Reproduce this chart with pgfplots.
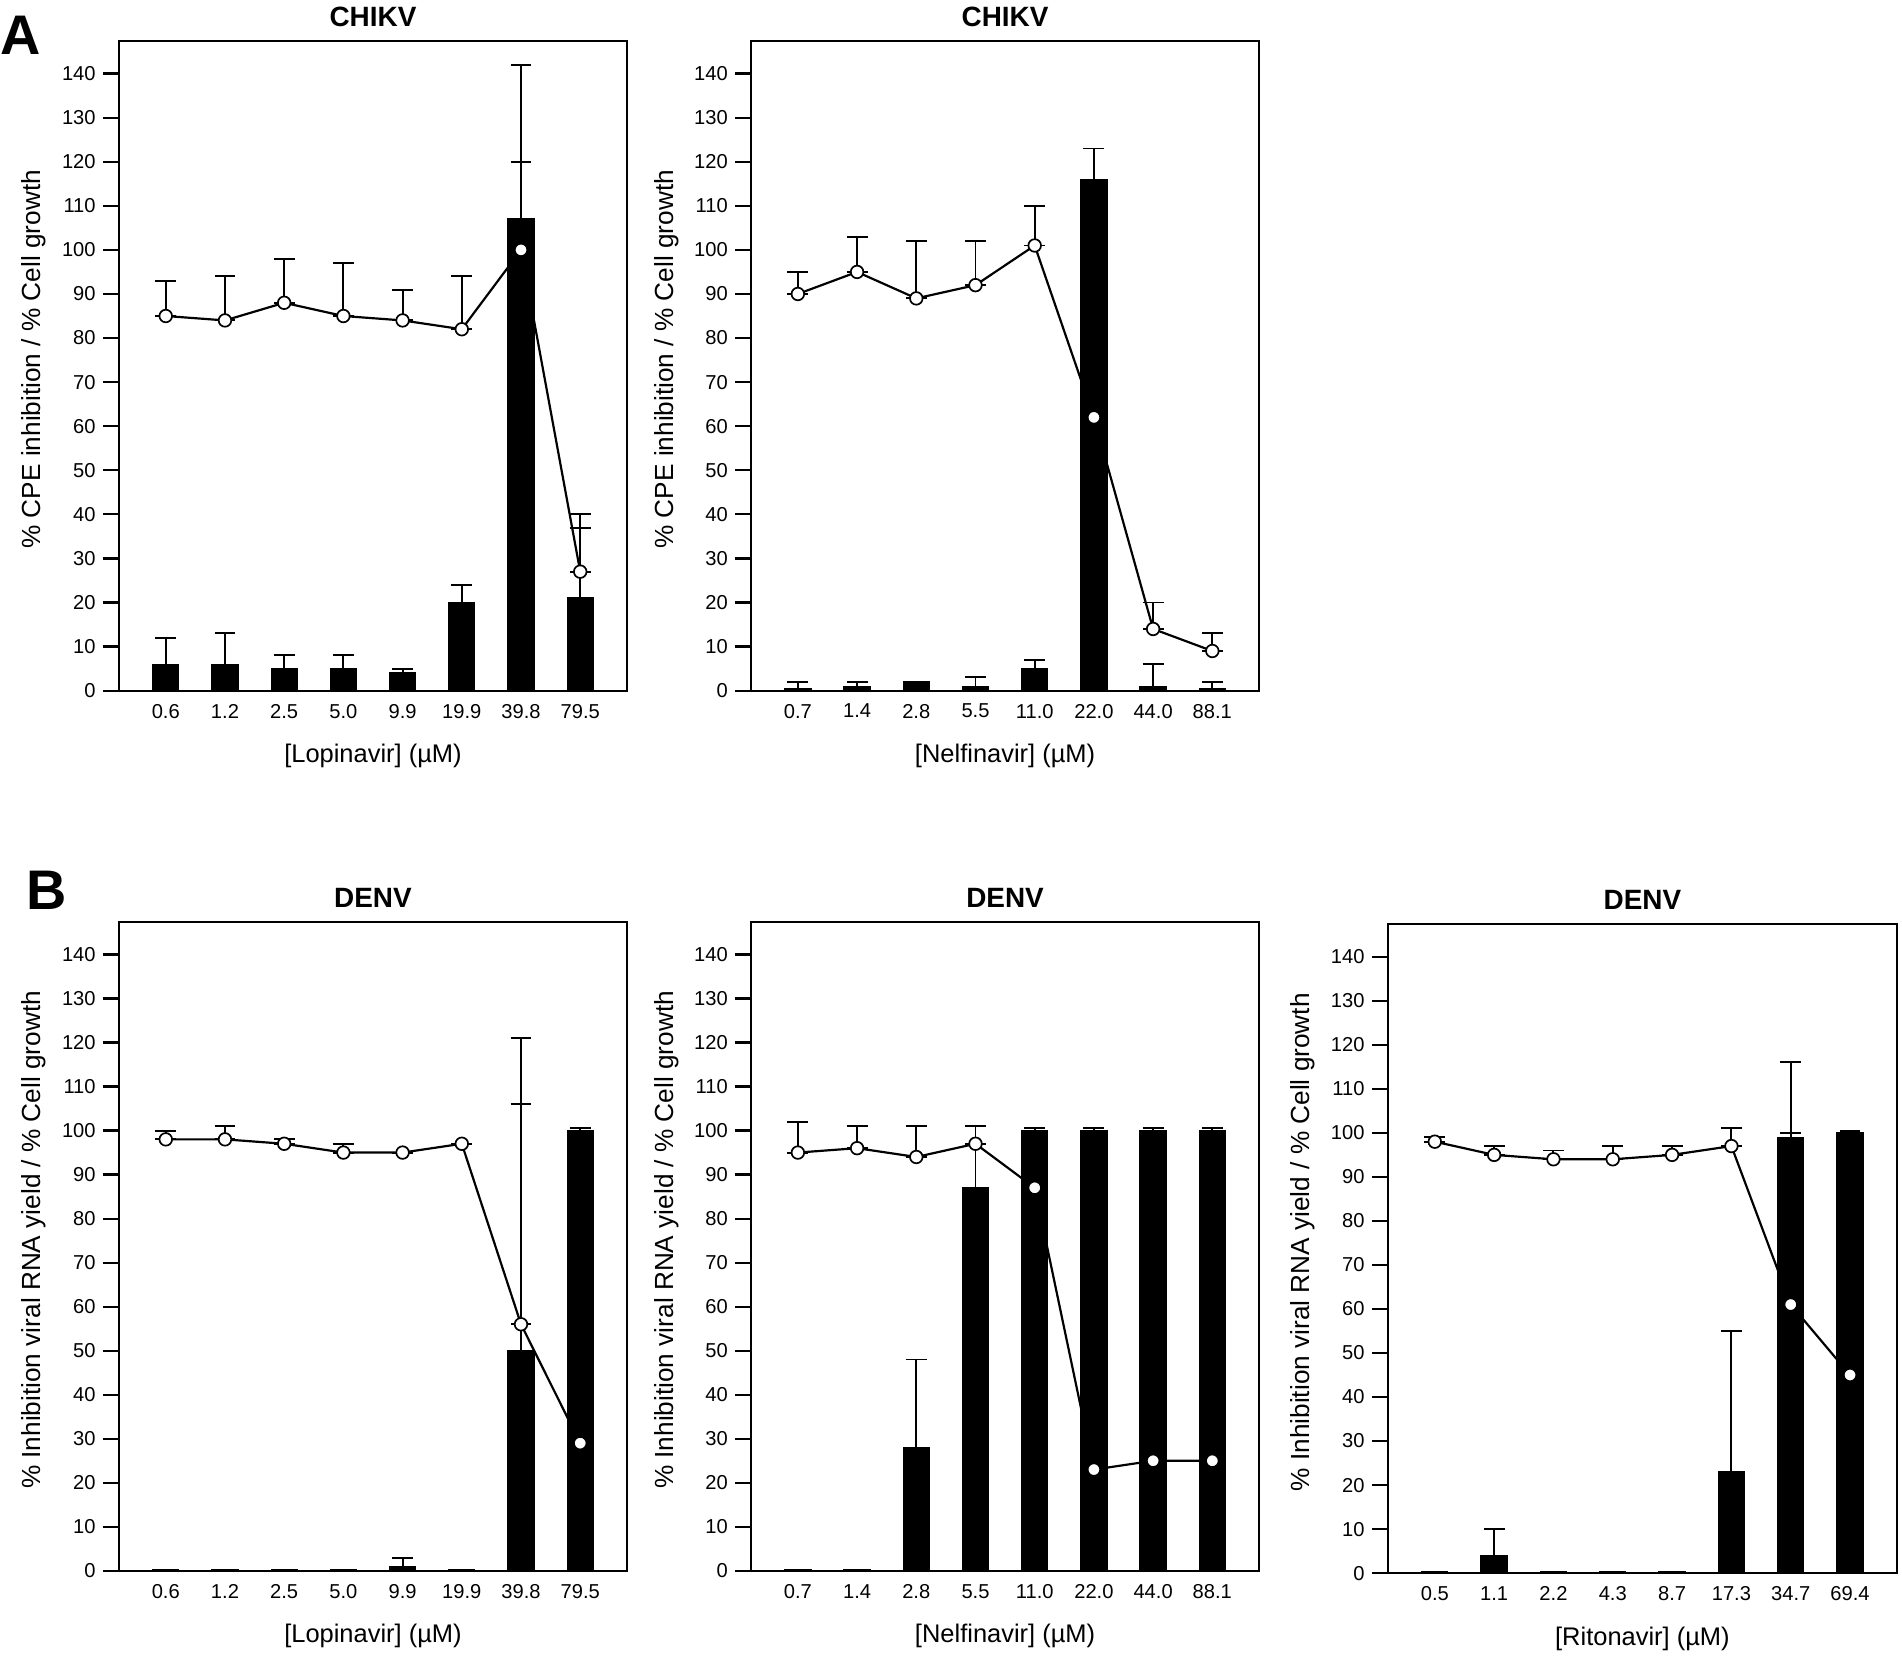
\documentclass[border=0pt]{standalone}
\usepackage{fontspec}
\setmainfont{Liberation Sans}
\usepackage{pgfplots}
\usepackage{pgfplotstable}
\pgfplotsset{compat=1.18}

% x b bp c cp  (b = bar value, bp = bar error +, c = cell growth, cp = its error +)
\pgfplotstableread{
x b bp c cp
0 6 6 85 8
1 6 7 84 10
2 5 3 88 10
3 5 3 85 12
4 4 1 84 7
5 20 4 82 12
6 107 35 100 20
7 21 16 27 13
}\tabAone
\pgfplotstableread{
x b bp c cp
0 0.5 1.5 90 5
1 1 1 95 8
2 2 0 89 13
3 1 2 92 10
4 5 2 101 9
5 116 7 62 0
6 1 5 14 6
7 0.5 1.5 9 4
}\tabAtwo
\pgfplotstableread{
x b bp c cp
0 0.3 0 98 2
1 0.3 0 98 3
2 0.3 0 97 1
3 0.3 0 95 2
4 1 2 95 0
5 0.3 0 97 0
6 50 71 56 50
7 100 0.5 29 0
}\tabBone
\pgfplotstableread{
x b bp c cp
0 0.3 0 95 7
1 0.3 0 96 5
2 28 20 94 7
3 87 14 97 4
4 100 0.5 87 0
5 100 0.5 23 0
6 100 0.5 25 0
7 100 0.5 25 0
}\tabBtwo
\pgfplotstableread{
x b bp c cp
0 0.3 0 98 1
1 4 6 95 2
2 0.3 0 94 2
3 0.3 0 94 3
4 0.3 0 95 2
5 23 32 97 4
6 99 17 61 39
7 100 0.5 45 0
}\tabBthree

\pgfplotsset{
  panel/.style={
    scale only axis, width=209.4pt, height=267.8pt, anchor=south west,
    xmin=-0.79, xmax=7.79, ymin=0, ymax=147.4,
    xtick={0,...,7}, ytick={0,10,...,140},
    xtick style={draw=none},
    ytick pos=left, tick align=outside,
    major tick length=6.6pt,
    ytick style={line width=0.9pt, black},
    axis line style={line width=0.9pt},
    ticklabel style={font=\fontsize{8.3}{10}\selectfont},
    /pgf/number format/assume math mode=true,
    yticklabel style={xshift=0.5pt},
    xticklabel style={yshift=4.6pt},
    every axis y label/.style={at={(axis description cs:-0.167,0.51)}, anchor=center, rotate=90, font=\fontsize{10.8}{12}\selectfont},
    every axis x label/.style={at={(axis description cs:0.5,-0.101)}, anchor=center, font=\fontsize{10.5}{12}\selectfont},
    every axis title/.style={at={(axis description cs:0.5,1)}, anchor=center, yshift=9.9pt, font=\bfseries\fontsize{11.5}{13}\selectfont},
  },
  barplot/.style={ybar, bar shift=0pt, bar width=0.44, fill=black, draw=black, line width=0.5pt,
    error bars/.cd, y dir=plus, y explicit,
    error bar style={line width=0.8pt, black},
    error mark options={rotate=90, mark size=4.3pt, line width=0.8pt, black}},
  lineplot/.style={black, line width=0.9pt, mark=*, mark size=2.6pt,
    mark options={fill=white, draw=black, line width=0.7pt},
    error bars/.cd, y dir=both, y explicit,
    error bar style={line width=0.8pt, black},
    error mark options={rotate=90, mark size=4.3pt, line width=0.8pt, black}},
}

\begin{document}
\begin{tikzpicture}
\node[font=\bfseries\fontsize{23}{23}\selectfont, inner sep=0pt] at (8.7pt,669.4pt) {A};
\node[font=\bfseries\fontsize{23}{23}\selectfont, inner sep=0pt] at (19.4pt,317pt) {B};

% A1
\begin{axis}[panel, at={(49.05pt,399.2pt)}, title={CHIKV},
  xticklabels={0.6,1.2,2.5,5.0,9.9,19.9,39.8,79.5},
  xlabel={[Lopinavir] (µM)}, ylabel={\% CPE inhibition / \% Cell growth}]
\addplot[barplot] table[x=x, y=b, y error plus=bp] {\tabAone};
\addplot[lineplot] table[x=x, y=c, y error plus=cp, y error minus expr=0] {\tabAone};
\end{axis}

% A2
\begin{axis}[panel, at={(309.6pt,399.2pt)}, title={CHIKV},
  xticklabels={0.7,1.4,2.8,5.5,11.0,22.0,44.0,88.1},
  xlabel={[Nelfinavir] (µM)}, ylabel={\% CPE inhibition / \% Cell growth}]
\addplot[barplot] table[x=x, y=b, y error plus=bp] {\tabAtwo};
\addplot[lineplot] table[x=x, y=c, y error plus=cp, y error minus expr=0] {\tabAtwo};
\end{axis}

% B1
\begin{axis}[panel, at={(49.05pt,36.4pt)}, height=267.5pt, title={DENV},
  xticklabels={0.6,1.2,2.5,5.0,9.9,19.9,39.8,79.5},
  xlabel={[Lopinavir] (µM)}, ylabel={\% Inhibition viral RNA yield / \% Cell growth}]
\addplot[barplot] table[x=x, y=b, y error plus=bp] {\tabBone};
\addplot[lineplot] table[x=x, y=c, y error plus=cp, y error minus expr=0] {\tabBone};
\end{axis}

% B2
\begin{axis}[panel, at={(309.6pt,36.4pt)}, height=267.5pt, title={DENV},
  xticklabels={0.7,1.4,2.8,5.5,11.0,22.0,44.0,88.1},
  xlabel={[Nelfinavir] (µM)}, ylabel={\% Inhibition viral RNA yield / \% Cell growth}]
\addplot[barplot] table[x=x, y=b, y error plus=bp] {\tabBtwo};
\addplot[lineplot] table[x=x, y=c, y error plus=cp, y error minus expr=0] {\tabBtwo};
\end{axis}

% B3
\begin{axis}[panel, at={(572.1pt,35.45pt)}, width=209.8pt, height=267.5pt, title={DENV},
  xticklabels={0.5,1.1,2.2,4.3,8.7,17.3,34.7,69.4},
  xlabel={[Ritonavir] (µM)}, ylabel={\% Inhibition viral RNA yield / \% Cell growth}]
\addplot[barplot] table[x=x, y=b, y error plus=bp] {\tabBthree};
\addplot[lineplot] table[x=x, y=c, y error plus=cp, y error minus expr=0] {\tabBthree};
\end{axis}

\pgfresetboundingbox
\path[use as bounding box] (0,0) rectangle (784pt,683.9pt);
\end{tikzpicture}
\end{document}
